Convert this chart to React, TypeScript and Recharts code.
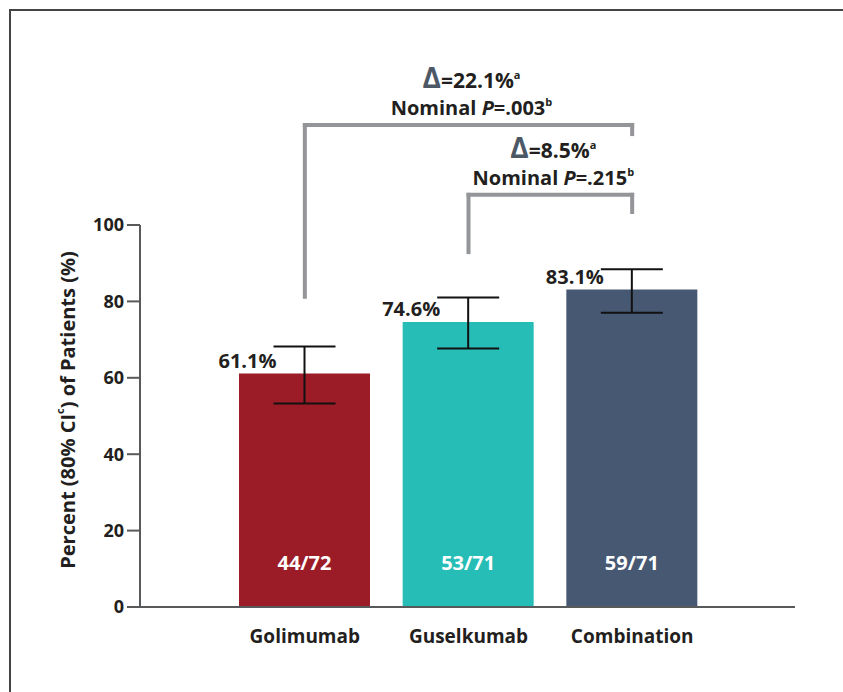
import React from 'react';
import { BarChart, Bar, XAxis, YAxis, Cell, ErrorBar, LabelList, ReferenceLine } from 'recharts';

const arms = ['Golimumab', 'Guselkumab', 'Combination'];
const responseRate = [61.1, 74.6, 83.1];
const ciLower = [53.3, 67.7, 77.0];
const ciUpper = [68.2, 81.0, 88.4];
const responders = ['44/72', '53/71', '59/71'];
const yTicks = [0, 20, 40, 60, 80, 100];

const comparisons = [
  { from: 'Golimumab', to: 'Combination', delta: '22.1', p: '.003' },
  { from: 'Guselkumab', to: 'Combination', delta: '8.5', p: '.215' },
];
// bracket heights (in axis units) for each comparison
const bracketLayout = [
  { top: 126.2, leftEnd: 81.2, rightEnd: 123.8 },
  { top: 107.9, leftEnd: 92.9, rightEnd: 103.4 },
];

const COLORS = ['#9b1b26', '#25bdb5', '#465872'];
const FONT = '"Open Sans", sans-serif';
const TEXT = '#231f20';
const BRACKET = '#939598';

const data = arms.map((arm, i) => ({
  arm,
  rate: responseRate[i],
  ci: [responseRate[i] - ciLower[i], ciUpper[i] - responseRate[i]],
  n: responders[i],
}));

const RateLabel = (props: any) => {
  const { x, y, width, value } = props;
  return (
    <text x={x + width / 2 - 57} y={y - 6} textAnchor="middle" fontFamily={FONT} fontWeight={700} fontSize={20} fill={TEXT}>
      {`${value}%`}
    </text>
  );
};

const CountLabel = (props: any) => {
  const { x, y, width, height, value } = props;
  return (
    <text x={x + width / 2} y={y + height - 37} textAnchor="middle" fontFamily={FONT} fontWeight={700} fontSize={20} fill="#ffffff">
      {value}
    </text>
  );
};

const compLabel = (c: { delta: string; p: string }) => (props: any) => {
  const vb = props.viewBox || {};
  const cx = vb.x + (vb.width || 0) / 2 + 3;
  const y = vb.y;
  return (
    <g fontFamily={FONT} fontWeight={700} fill={TEXT}>
      <text x={cx} y={y - 37} textAnchor="middle" fontSize={21}>
        <tspan fill="#4d5866" fontSize={28}>Δ</tspan>
        <tspan>{`=${c.delta}%`}</tspan>
        <tspan fontSize={11} dy={-9}>a</tspan>
      </text>
      <text x={cx} y={y - 10} textAnchor="middle" fontSize={20}>
        <tspan>Nominal </tspan>
        <tspan fontStyle="italic">P</tspan>
        <tspan>{`=${c.p}`}</tspan>
        <tspan fontSize={11} dy={-9}>b</tspan>
      </text>
    </g>
  );
};

const YLabel = (props: any) => {
  const vb = props.viewBox || {};
  const cx = 67;
  const cy = vb.y + vb.height / 2 - 6;
  return (
    <text x={cx} y={cy} transform={`rotate(-90 ${cx} ${cy})`} textAnchor="middle" dominantBaseline="central" fontFamily={FONT} fontWeight={700} fontSize={20} fill={TEXT}>
      <tspan>Percent (80% CI</tspan>
      <tspan fontSize={11} dy={-8}>c</tspan>
      <tspan dy={8}>) of Patients (%)</tspan>
    </text>
  );
};

export default function App() {
  return (
    <div style={{ position: 'absolute', left: 0, top: 0, width: 843, height: 692, background: '#fff' }}>
      <div style={{ position: 'absolute', left: 9, top: 9, right: 0, bottom: 0, borderTop: '2px solid #444', borderLeft: '2px solid #444' }} />
      <div style={{ position: 'absolute', left: 0, top: 0 }}>
        <BarChart width={843} height={692} data={data} margin={{ top: 225, right: 48, bottom: 45, left: 0 }} barSize={131}>
          <XAxis
            dataKey="arm"
            axisLine={{ stroke: '#58595b', strokeWidth: 2 }}
            tickLine={false}
            height={40}
            padding={{ left: 83, right: 81 }}
            tick={{ fontFamily: FONT, fontWeight: 700, fontSize: 19, fill: TEXT, dy: 15 }}
          />
          <YAxis
            width={140}
            domain={[0, 100]}
            ticks={yTicks}
            axisLine={{ stroke: '#58595b', strokeWidth: 2 }}
            tickLine={{ stroke: '#58595b', strokeWidth: 2 }}
            tickSize={13}
            tickMargin={3}
            tick={{ fontFamily: FONT, fontWeight: 700, fontSize: 18, fill: TEXT }}
            label={{ content: YLabel }}
          />
          <Bar dataKey="rate" isAnimationActive={false}>
            {data.map((d, i) => (
              <Cell key={d.arm} fill={COLORS[i]} />
            ))}
            <ErrorBar dataKey="ci" width={31} stroke="#111" strokeWidth={2} direction="y" />
            <LabelList dataKey="rate" content={RateLabel} />
            <LabelList dataKey="n" content={CountLabel} />
          </Bar>
          {comparisons.map((c, i) => {
            const b = bracketLayout[i];
            const common = { stroke: BRACKET, strokeWidth: 4, ifOverflow: 'visible' as const, strokeLinecap: 'square' as const };
            return [
              <ReferenceLine key={`l${i}`} {...common} segment={[{ x: c.from, y: b.leftEnd }, { x: c.from, y: b.top }]} />,
              <ReferenceLine key={`t${i}`} {...common} segment={[{ x: c.from, y: b.top }, { x: c.to, y: b.top }]} label={{ content: compLabel(c) }} />,
              <ReferenceLine key={`r${i}`} {...common} segment={[{ x: c.to, y: b.top }, { x: c.to, y: b.rightEnd }]} />,
            ];
          })}
        </BarChart>
      </div>
    </div>
  );
}
